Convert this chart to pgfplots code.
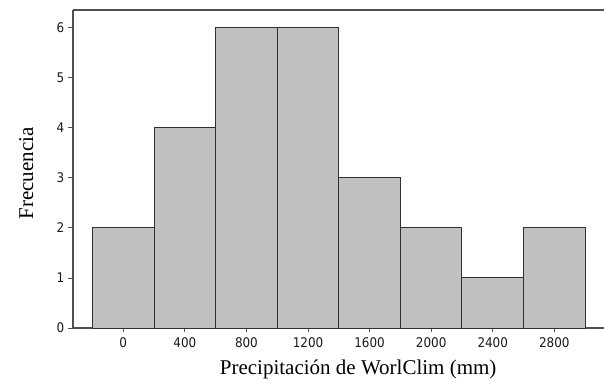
\documentclass[border=0pt]{standalone}
\usepackage{pgfplots}
\pgfplotsset{compat=1.18}
\usepackage{fontspec}
\setmainfont{Liberation Serif}
\newfontfamily\ticksfont{DejaVu Sans Condensed}
\definecolor{barfill}{HTML}{C0C0C0}
\definecolor{baredge}{HTML}{303030}
\definecolor{axcol}{HTML}{505050}
\begin{document}
\begin{tikzpicture}
\begin{axis}[
  scale only axis,
  width=531pt, height=318pt,
  xmin=-326.8, xmax=3123,
  ymin=0, ymax=6.354,
  axis x line*=box,
  axis y line*=left,
  axis line style={axcol, line width=1.2pt},
  xtick={0,400,800,1200,1600,2000,2400,2800},
  ytick={0,1,2,3,4,5,6},
  xtick pos=bottom, ytick pos=left,
  tick align=outside,
  xtick style={axcol, line width=0.9pt, /pgfplots/major tick length=3.5pt},
  ytick style={axcol, line width=0.9pt, /pgfplots/major tick length=5pt},
  /pgf/number format/assume math mode=true,
  /pgf/number format/1000 sep={},
  ticklabel style={font=\ticksfont\fontsize{13.3}{14}\selectfont, text=black!90},
  xticklabel style={yshift=-2pt},
  yticklabel style={xshift=-1pt},
  xlabel={Precipitación de WorlClim (mm)},
  ylabel={Frecuencia},
  label style={font=\fontsize{21}{24}\selectfont},
  xlabel style={at={(axis description cs:0.537,-0.1447)}, anchor=base},
  ylabel style={at={(axis description cs:-0.0753,0.486)}, anchor=base},
]
\addplot[ybar interval, fill=barfill, draw=baredge, line width=1pt] coordinates {
  (-200,2) (200,4) (600,6) (1000,6) (1400,3) (1800,2) (2200,1) (2600,2) (3000,2)
};
\end{axis}
\pgfresetboundingbox
\path[use as bounding box] (-73pt,-55pt) rectangle (531pt,328pt);
\end{tikzpicture}
\end{document}
